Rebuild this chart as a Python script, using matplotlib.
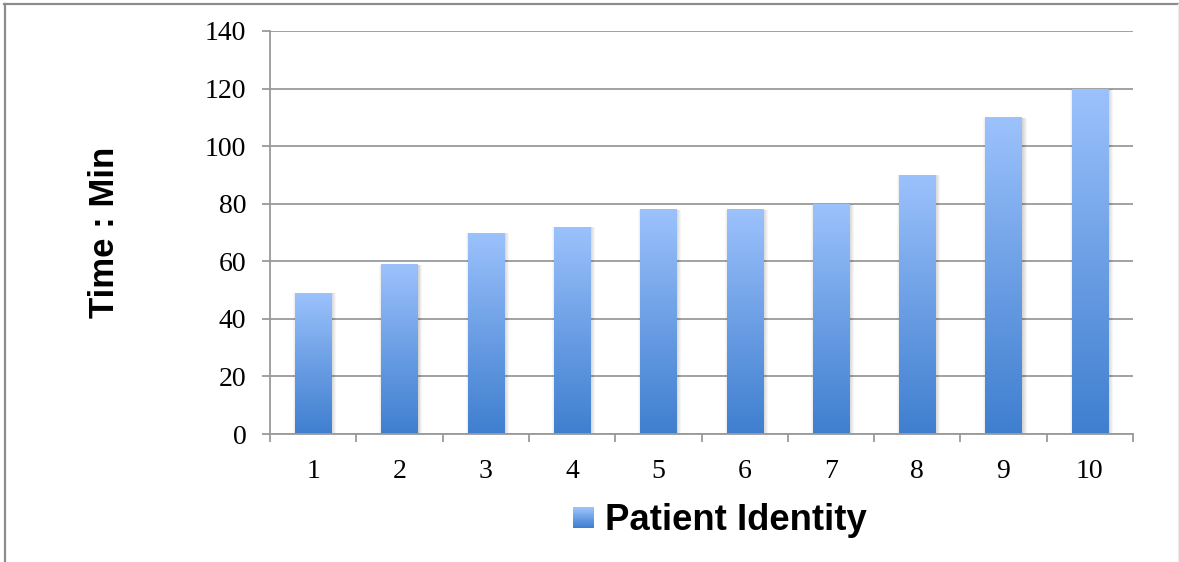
import numpy as np
import matplotlib
matplotlib.use("Agg")
import matplotlib.pyplot as plt
from matplotlib.colors import LinearSegmentedColormap
from matplotlib.patches import Rectangle
from matplotlib.legend_handler import HandlerBase
from matplotlib.lines import Line2D
import matplotlib.patheffects as pe

# Data
patients = ["1", "2", "3", "4", "5", "6", "7", "8", "9", "10"]
minutes = [49, 59, 70, 72, 78, 78, 80, 90, 110, 120]
y_ticks = [0, 20, 40, 60, 80, 100, 120, 140]
series_name = "Patient Identity"
y_title = "Time : Min"

W, H, DPI = 1179, 562, 100
fig = plt.figure(figsize=(W / DPI, H / DPI), dpi=DPI)
fig.patch.set_facecolor("white")

ax = fig.add_axes([270 / W, 1 - 434 / H, (1133 - 270) / W, (434 - 31) / H])

grad = LinearSegmentedColormap.from_list(
    "bar_grad", [(0.0, "#3f7fcf"), (0.5, "#6c9fe5"), (1.0, "#9cc2fc")])
grid_color = "#9a9a9a"

x = np.arange(1, len(patients) + 1)
bars = ax.bar(x, minutes, width=0.42, color="#6c9fe5", edgecolor="none",
              zorder=3)

# Soft shadow around each bar, then a vertical gradient clipped to the bar
shadow = [pe.SimplePatchShadow(offset=(d, -0.3), shadow_rgbFace="black",
                               alpha=0.035) for d in (3.5, 2.8, 2.1, 1.4, 0.7)]
shadow += [pe.SimplePatchShadow(offset=(-d, -0.3), shadow_rgbFace="black",
                                alpha=0.03) for d in (1.4, 0.7)]
gradient = np.linspace(0, 1, 256).reshape(-1, 1)
for b in bars:
    b.set_path_effects(shadow + [pe.Normal()])
    x0, w, h = b.get_x(), b.get_width(), b.get_height()
    im = ax.imshow(gradient, cmap=grad, origin="lower", aspect="auto",
                   extent=(x0, x0 + w, 0, h), zorder=4, interpolation="bilinear")
    im.set_clip_path(b)

ax.set_xlim(0.5, len(patients) + 0.5)
ax.set_ylim(0, 140)

# Axes styling
for side in ("top", "right"):
    ax.spines[side].set_visible(False)
for side in ("left", "bottom"):
    ax.spines[side].set_color(grid_color)
    ax.spines[side].set_linewidth(1.3)
    ax.spines[side].set_zorder(5)

ax.set_yticks(y_ticks)
ax.yaxis.grid(True, color=grid_color, linewidth=1.3, zorder=1)
ax.set_axisbelow(True)

ax.set_xticks(x)
ax.set_xticklabels(patients)
ax.set_xticks(np.arange(0.5, len(patients) + 1, 1.0), minor=True)

serif = "Liberation Serif"
ax.tick_params(axis="y", direction="out", length=6, width=1.3,
               color=grid_color, pad=11, labelsize=20, labelfontfamily=serif)
ax.tick_params(axis="x", which="major", length=0, pad=18, labelsize=20,
               labelfontfamily=serif)
ax.tick_params(axis="x", which="minor", direction="out", length=6, width=1.3,
               color=grid_color)

ax.set_ylabel(y_title, fontsize=25, fontweight="bold",
              fontfamily="Liberation Sans")
ax.yaxis.set_label_coords(-0.1725, 0.5)
ax.set_xlabel("")


class GradientSquare(HandlerBase):
    def create_artists(self, legend, orig_handle, xdescent, ydescent,
                       width, height, fontsize, trans):
        side = 15.0
        x0 = -xdescent + (width - side) / 2
        y0 = -ydescent + (height - side) / 2
        n = 24
        pieces = []
        for i in range(n):
            pieces.append(Rectangle((x0, y0 + side * i / n), side, side / n + 0.05,
                                    facecolor=grad(i / (n - 1)),
                                    edgecolor="none", transform=trans))
        return pieces


handle = Rectangle((0, 0), 1, 1)
fig.legend([handle], [series_name], handler_map={Rectangle: GradientSquare()},
           loc="center", bbox_to_anchor=(720 / W, 1 - 521 / H), frameon=False,
           prop={"family": "Liberation Sans", "weight": "bold", "size": 26.3},
           handlelength=0.58, handleheight=0.7, handletextpad=0.3,
           borderpad=0, borderaxespad=0)

# Chart frame (top and left edges)
fig.add_artist(Line2D([4 / W, 1.0], [1 - 3.5 / H] * 2, color="#8c8c8c",
                      linewidth=1.6, transform=fig.transFigure))
fig.add_artist(Line2D([4.5 / W] * 2, [0, 1 - 3.5 / H], color="#8c8c8c",
                      linewidth=1.6, transform=fig.transFigure))
fig.add_artist(Line2D([1178 / W] * 2, [0, 1 - 3.5 / H], color="#ececec",
                      linewidth=1.0, transform=fig.transFigure))

fig.savefig("out.png", dpi=DPI, facecolor="white")
